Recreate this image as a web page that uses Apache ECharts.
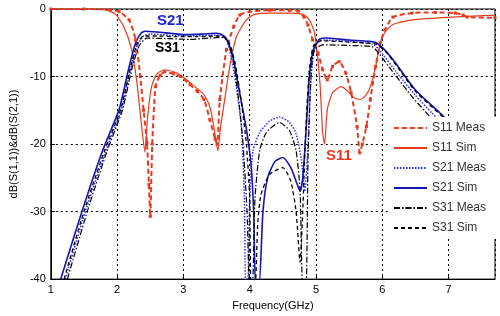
<!DOCTYPE html>
<html>
<head>
<meta charset="utf-8">
<script src="https://cdn.jsdelivr.net/npm/echarts@6/dist/echarts.min.js"></script>
<style>
  html, body { margin: 0; padding: 0; background: #fff; }
  #chart { width: 500px; height: 316px; }
</style>
</head>
<body>
<div id="chart"></div>
<script>
// [frequency GHz, dB]
const s11Meas = [[1.0,0],[1.5,0],[1.9,-0.1],[2.03,-0.4],[2.18,-1.6],[2.28,-4.6],[2.35,-10],[2.4,-15],[2.45,-19.8],[2.48,-26],[2.5,-30.7],[2.53,-20],[2.58,-11.5],[2.65,-9.8],[2.72,-9.3],[2.85,-9.6],[2.96,-10],[3.1,-11.2],[3.21,-12.2],[3.31,-13.4],[3.4,-16.4],[3.48,-19.3],[3.51,-20],[3.55,-13.4],[3.65,-6],[3.76,-2.6],[3.85,-0.9],[4.0,-0.4],[4.3,-0.2],[4.6,-0.2],[4.73,-0.3],[4.82,-1.2],[4.88,-2.4],[4.95,-4.6],[5.03,-6.5],[5.1,-9],[5.17,-10.5],[5.25,-8.5],[5.35,-7.8],[5.45,-9.5],[5.53,-12.4],[5.62,-17.4],[5.66,-21.3],[5.7,-20],[5.76,-17.4],[5.82,-13.4],[5.9,-8.5],[5.97,-5],[6.04,-3.1],[6.16,-1.2],[6.45,-0.6],[6.8,-0.5],[7.1,-0.6],[7.22,-0.9],[7.28,-1.2],[7.7,-1.3]];
const s11Sim = [[1.0,0],[1.7,0],[1.85,-0.2],[1.98,-0.8],[2.1,-2.6],[2.22,-6],[2.3,-11],[2.37,-17.4],[2.42,-21.2],[2.46,-16],[2.52,-11.5],[2.6,-9.6],[2.72,-9],[2.85,-9.3],[2.96,-9.8],[3.1,-10.9],[3.21,-11.8],[3.31,-12.7],[3.4,-14.5],[3.46,-17.5],[3.52,-21],[3.56,-17.5],[3.6,-14.9],[3.7,-8.5],[3.8,-4.1],[3.95,-1.6],[4.07,-0.8],[4.3,-0.6],[4.6,-0.6],[4.8,-0.8],[4.9,-1.6],[4.98,-3.6],[5.06,-11],[5.1,-18.3],[5.13,-20],[5.17,-14.9],[5.25,-12.4],[5.38,-11.5],[5.48,-12.2],[5.57,-13.1],[5.67,-13.4],[5.75,-12.8],[5.82,-11.5],[5.9,-8.5],[5.97,-5],[6.05,-3.3],[6.16,-2.3],[6.35,-1.8],[6.56,-1.5],[7.05,-1.2],[7.7,-0.9]];
const s21Meas = [[1.22,-40],[1.52,-30],[1.83,-21],[2.06,-15],[2.2,-9],[2.3,-5.5],[2.4,-4.0],[2.5,-3.7],[2.8,-3.9],[3.1,-4.0],[3.4,-3.9],[3.58,-3.9],[3.66,-4.8],[3.74,-8],[3.82,-13],[3.88,-18],[3.92,-28],[3.94,-41],[3.97,-41],[4.0,-28],[4.05,-21],[4.15,-18.3],[4.3,-16.6],[4.45,-16],[4.6,-16.8],[4.7,-18.5],[4.78,-22.3],[4.83,-27],[4.87,-22],[4.92,-11],[4.97,-6],[5.05,-4.7],[5.15,-4.6],[5.5,-4.8],[5.85,-5.2],[5.95,-6],[6.2,-9.2],[6.5,-12.8],[6.75,-15.4],[7.2,-20]];
const s21Sim = [[1.15,-40],[1.47,-30],[1.78,-21],[2.03,-14.9],[2.18,-8.6],[2.28,-5],[2.36,-3.6],[2.42,-3.3],[2.6,-3.4],[2.8,-3.6],[3.02,-3.8],[3.3,-3.7],[3.5,-3.6],[3.6,-3.9],[3.66,-4.6],[3.75,-7.2],[3.85,-12.5],[3.95,-17.8],[4.02,-23],[4.06,-30],[4.09,-41],[4.14,-41],[4.2,-30],[4.27,-25],[4.38,-22.6],[4.5,-22],[4.62,-23.5],[4.7,-25.5],[4.76,-27],[4.8,-25],[4.85,-18],[4.9,-10],[4.96,-6],[5.05,-4.5],[5.13,-4.3],[5.5,-4.6],[5.8,-4.8],[5.91,-5],[6.05,-6.2],[6.2,-8],[6.5,-12],[6.87,-15.4],[7.3,-19.5]];
const s31Meas = [[1.25,-40],[1.55,-30],[1.85,-21],[2.08,-15],[2.22,-9],[2.33,-5.5],[2.45,-4.3],[2.8,-4.4],[3.1,-4.5],[3.4,-4.3],[3.6,-4.2],[3.68,-5],[3.76,-8],[3.84,-14],[3.9,-20],[3.96,-30],[4.0,-41],[4.04,-41],[4.08,-28],[4.15,-21],[4.25,-18.3],[4.45,-16.8],[4.6,-18],[4.7,-21],[4.76,-27],[4.8,-41],[4.85,-41],[4.88,-22],[4.93,-9],[4.98,-6],[5.1,-5.3],[5.5,-5.4],[5.85,-5.6],[5.95,-6.6],[6.15,-9.2],[6.45,-13],[6.65,-15.2],[7.1,-20]];
const s31Sim = [[1.2,-40],[1.5,-30],[1.81,-21],[2.05,-15],[2.2,-8.8],[2.3,-5.2],[2.4,-4],[2.6,-4],[2.9,-4.1],[3.2,-4.1],[3.5,-4],[3.62,-4.2],[3.7,-5.2],[3.78,-8],[3.87,-13.5],[3.95,-20],[4.0,-28],[4.02,-41],[4.08,-41],[4.12,-32],[4.17,-27.5],[4.3,-24.5],[4.5,-23.5],[4.62,-25.5],[4.7,-30],[4.76,-37.5],[4.8,-30],[4.85,-17],[4.9,-9],[4.96,-5.5],[5.08,-4.7],[5.5,-4.9],[5.9,-5.2],[6.05,-6.3],[6.2,-8.2],[6.5,-12.2],[6.87,-15.6],[7.3,-19.6]];

const RED = "#e8391e";
const BLUE = "#2b2bff";
const NAVY = "#1414b4";
const FONT = "Liberation Sans, Arial, sans-serif";

const chart = echarts.init(document.getElementById("chart"));

const line = (name, data, color, width, type, extra) =>
  Object.assign({
    name,
    type: "line",
    data,
    showSymbol: false,
    symbol: "none",
    smooth: 0.2,
    animation: false,
    lineStyle: { color, width, type },
    itemStyle: { color },
  }, extra || {});

chart.setOption({
  backgroundColor: "#fff",
  textStyle: { fontFamily: FONT },
  grid: {
    left: 40, top: 9, right: 5, bottom: 36,
    show: true, borderColor: "#000", borderWidth: 1,
  },
  xAxis: {
    type: "value",
    min: 1, max: 7.7, interval: 1,
    name: "Frequency(GHz)",
    nameLocation: "middle",
    nameGap: 17,
    nameTextStyle: { fontSize: 11, color: "#000", fontFamily: FONT },
    axisLine: { show: true, onZero: false, lineStyle: { color: "#000" } },
    axisTick: { inside: true, length: 4, lineStyle: { color: "#000" } },
    axisLabel: { fontSize: 11, color: "#000", margin: 5, showMaxLabel: false, fontFamily: FONT },
    splitLine: { show: true, lineStyle: { color: "#000", type: [2, 3], width: 1 } },
  },
  yAxis: {
    type: "value",
    min: -40, max: 0, interval: 10,
    name: "dB(S(1,1))&dB(S(2,1))",
    nameLocation: "middle",
    nameGap: 25,
    nameTextStyle: { fontSize: 11, color: "#000", fontFamily: FONT },
    axisLine: { show: true, lineStyle: { color: "#000" } },
    axisTick: { inside: true, length: 4, lineStyle: { color: "#000" } },
    axisLabel: { fontSize: 11, color: "#000", margin: 5, fontFamily: FONT },
    splitLine: { show: true, lineStyle: { color: "#000", type: [2, 3], width: 1 } },
  },
  legend: {
    orient: "vertical",
    left: 388, top: 117,
    padding: [5, 14, 5, 5],
    itemGap: 8,
    itemWidth: 33,
    itemHeight: 14,
    backgroundColor: "#fff",
    z: 10,
    itemStyle: { opacity: 0 },
    textStyle: { fontSize: 12, color: "#333", fontFamily: FONT },
    data: ["S11 Meas", "S11 Sim", "S21 Meas", "S21 Sim", "S31 Meas", "S31 Sim"],
  },
  graphic: [
    { type: "text", left: 157, top: 13, z: 20,
      style: { text: "S21", fill: "#2020e0", font: "bold 15px " + FONT } },
    { type: "text", left: 155, top: 41, z: 20,
      style: { text: "S31", fill: "#000", font: "bold 14px " + FONT } },
    { type: "text", left: 326, top: 148, z: 20,
      style: { text: "S11", fill: RED, font: "bold 15px " + FONT } },
  ],
  series: [
    line("S11 Meas", s11Meas, RED, 2, [5, 3], {
      showSymbol: true, symbol: "rect", symbolSize: 3,
    }),
    line("S11 Sim", s11Sim, RED, 1.2, "solid"),
    line("S21 Meas", s21Meas, BLUE, 1.5, [1.5, 1.5]),
    line("S21 Sim", s21Sim, NAVY, 1.6, "solid"),
    line("S31 Meas", s31Meas, "#000", 1.2, [6, 2, 1.5, 2]),
    line("S31 Sim", s31Sim, "#000", 1.3, [4, 3]),
  ],
});
</script>
</body>
</html>
